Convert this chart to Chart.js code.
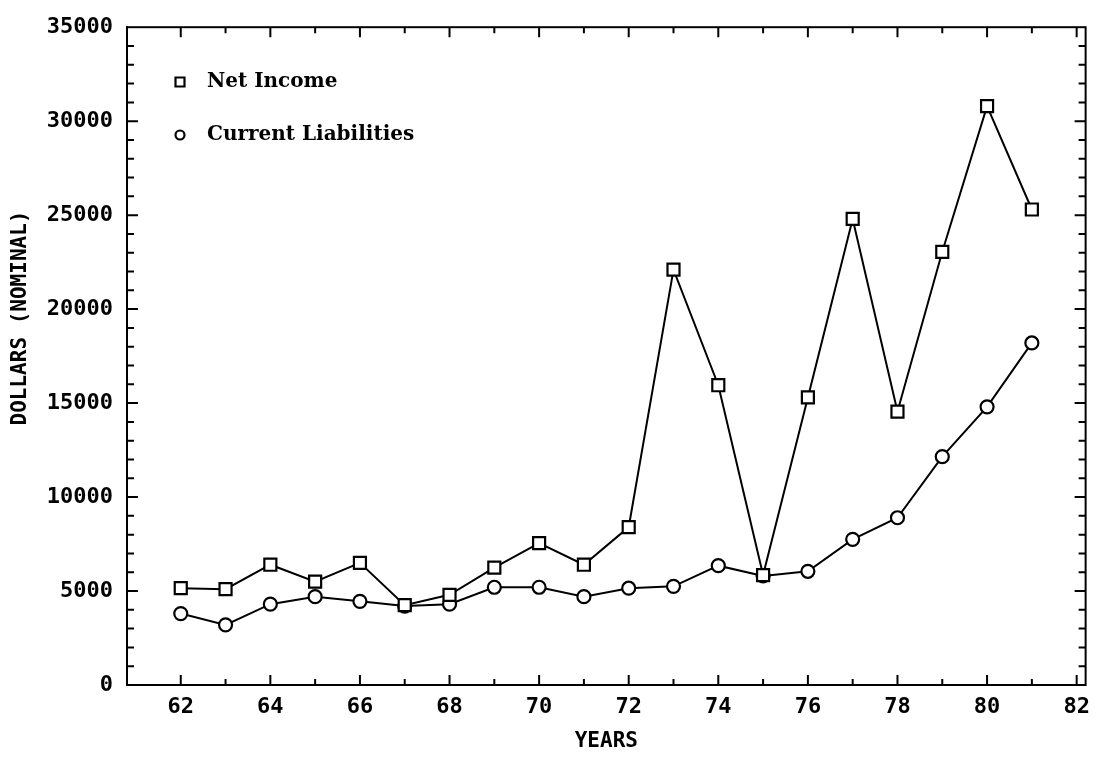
<!DOCTYPE html>
<html>
<head>
<meta charset="utf-8">
<script src="https://cdn.jsdelivr.net/npm/chart.js@4.4.1/dist/chart.umd.min.js"></script>
<style>
  html, body { margin: 0; padding: 0; background: #fff; }
  #wrap { width: 1099px; height: 758px; }
</style>
</head>
<body>
<div id="wrap"><canvas id="incomeChart" width="1099" height="758"></canvas></div>
<script>
const years = [62, 63, 64, 65, 66, 67, 68, 69, 70, 71, 72, 73, 74, 75, 76, 77, 78, 79, 80, 81];
const netIncome = [5150, 5100, 6400, 5500, 6500, 4250, 4800, 6250, 7550, 6400,
  8400, 22100, 15950, 5850, 15300, 24800, 14550, 23050, 30800, 25300];
const currentLiabilities = [3800, 3200, 4300, 4700, 4450, 4200, 4300, 5200, 5200, 4700,
  5150, 5250, 6350, 5800, 6050, 7750, 8900, 12150, 14800, 18200];
const xTickLabels = [62, 64, 66, 68, 70, 72, 74, 76, 78, 80, 82];
const yTickLabels = [0, 5000, 10000, 15000, 20000, 25000, 30000, 35000];

const monoFont = "'DejaVu Sans Mono', monospace";

// ticks pointing inward on all four sides + frame + legend + y title
const framePlugin = {
  id: "frame",
  afterDraw(chart) {
    const ctx = chart.ctx;
    const a = chart.chartArea;
    const xs = chart.scales.x;
    const ys = chart.scales.y;
    ctx.save();
    ctx.strokeStyle = "#000";
    ctx.lineWidth = 2;
    ctx.strokeRect(a.left, a.top, a.right - a.left, a.bottom - a.top);

    ctx.beginPath();
    for (let yr = 62; yr <= 82; yr++) {
      const px = xs.getPixelForValue(yr);
      const len = yr % 2 === 0 ? 10 : 6;
      ctx.moveTo(px, a.bottom); ctx.lineTo(px, a.bottom - len);
      ctx.moveTo(px, a.top); ctx.lineTo(px, a.top + len);
    }
    for (let v = 1000; v < 35000; v += 1000) {
      const py = ys.getPixelForValue(v);
      const len = v % 5000 === 0 ? 11 : 7;
      ctx.moveTo(a.left, py); ctx.lineTo(a.left + len, py);
      ctx.moveTo(a.right, py); ctx.lineTo(a.right - len, py);
    }
    ctx.stroke();

    // legend
    ctx.font = "bold 20px 'DejaVu Serif', serif";
    ctx.textBaseline = "middle";
    ctx.fillStyle = "#000";
    const rows = [82, 135];
    chart.data.datasets.forEach((ds, i) => {
      const cx = 180, cy = rows[i];
      ctx.lineWidth = 2.2;
      ctx.beginPath();
      if (ds.pointStyle === "rect") {
        ctx.rect(cx - 4.5, cy - 4.5, 9, 9);
      } else {
        ctx.arc(cx, cy, 4.5, 0, Math.PI * 2);
      }
      ctx.stroke();
      ctx.fillText(ds.label, 207, cy);
    });

    // y axis title
    ctx.font = "bold 21px " + monoFont;
    ctx.textAlign = "center";
    ctx.translate(21, 318);
    ctx.rotate(-Math.PI / 2);
    ctx.fillText("DOLLARS (NOMINAL)", 0, 0);
    ctx.restore();
  }
};

const data = {
  datasets: [
    {
      label: "Net Income",
      data: years.map((y, i) => ({ x: y, y: netIncome[i] })),
      borderColor: "#000",
      borderWidth: 2,
      pointStyle: "rect",
      pointRadius: 8.5,
      pointBorderWidth: 2.2,
      pointBackgroundColor: "#fff",
      pointBorderColor: "#000",
      tension: 0
    },
    {
      label: "Current Liabilities",
      data: years.map((y, i) => ({ x: y, y: currentLiabilities[i] })),
      borderColor: "#000",
      borderWidth: 2,
      pointStyle: "circle",
      pointRadius: 6.5,
      pointBorderWidth: 2.2,
      pointBackgroundColor: "#fff",
      pointBorderColor: "#000",
      tension: 0
    }
  ]
};

const config = {
  type: "line",
  data: data,
  options: {
    responsive: false,
    animation: false,
    layout: { padding: { top: 17, right: 10, left: 0, bottom: 0 } },
    plugins: {
      legend: { display: false },
      tooltip: { enabled: false }
    },
    scales: {
      x: {
        type: "linear",
        min: 60.8,
        max: 82.2,
        afterBuildTicks: (scale) => {
          scale.ticks = xTickLabels.map((v) => ({ value: v }));
        },
        afterFit: (scale) => { scale.height = 73; },
        grid: { display: false, drawTicks: false },
        border: { color: "#000", width: 2 },
        ticks: {
          color: "#000",
          padding: 9,
          maxRotation: 0,
          font: { family: monoFont, size: 22, weight: "bold" },
          callback: (v) => String(v)
        },
        title: {
          display: true,
          text: "YEARS",
          color: "#000",
          font: { family: monoFont, size: 21, weight: "bold" },
          padding: { top: 0, bottom: 4 }
        }
      },
      y: {
        min: 0,
        max: 35000,
        afterBuildTicks: (scale) => {
          scale.ticks = yTickLabels.map((v) => ({ value: v }));
        },
        afterFit: (scale) => { scale.width = 127; },
        grid: { display: false, drawTicks: false },
        border: { color: "#000", width: 2 },
        ticks: {
          color: "#000",
          padding: 14,
          font: { family: monoFont, size: 22, weight: "bold" },
          callback: (v) => String(v)
        }
      }
    }
  },
  plugins: [framePlugin]
};

let myChart = new Chart(document.getElementById("incomeChart"), config);
</script>
</body>
</html>
